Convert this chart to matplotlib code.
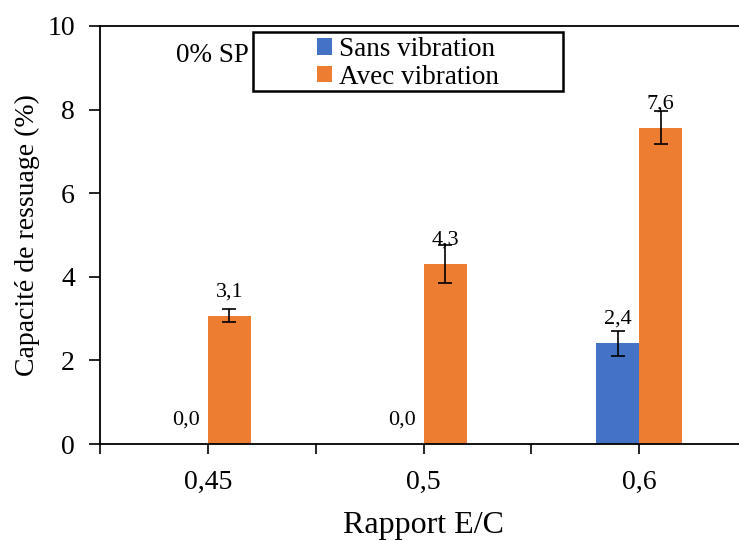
import matplotlib
matplotlib.use("Agg")
import matplotlib.pyplot as plt
from matplotlib.patches import Rectangle
import numpy as np

categories = ["0,45", "0,5", "0,6"]
sans_vib = [0.0, 0.0, 2.41]
avec_vib = [3.07, 4.31, 7.57]
sans_err = [0.0, 0.0, 0.30]
avec_err = [0.15, 0.45, 0.40]
sans_labels = ["0,0", "0,0", "2,4"]
avec_labels = ["3,1", "4,3", "7,6"]

plt.rcParams['font.family'] = ['Liberation Serif', 'DejaVu Serif']

fig = plt.figure(figsize=(7.39, 5.40), dpi=100)
W, H = 739, 540
left, right, top, bottom = 100, 747, 26, 444
ax = fig.add_axes([left / W, 1 - bottom / H, (right - left) / W, (bottom - top) / H])

x = np.arange(len(categories))
bw = 0.2
blue = "#4472C4"
orange = "#ED7D31"
ax.bar(x - bw / 2, sans_vib, bw, color=blue, label="Sans vibration", zorder=2)
ax.bar(x + bw / 2, avec_vib, bw, color=orange, label="Avec vibration", zorder=2)
for xi, v, e in zip(x - bw / 2, sans_vib, sans_err):
    if e > 0:
        ax.errorbar(xi, v, yerr=e, color="black", capsize=5, elinewidth=1.2, capthick=1.2, zorder=3)
for xi, v, e in zip(x + bw / 2, avec_vib, avec_err):
    ax.errorbar(xi, v, yerr=e, color="black", capsize=5, elinewidth=1.2, capthick=1.2, zorder=3)

for xi, v, t in zip(x - bw / 2, sans_vib, sans_labels):
    ax.annotate(t, (xi, v), xytext=(0, 24), textcoords="offset pixels", ha="center", va="center", fontsize=16)
for xi, v, t in zip(x + bw / 2, avec_vib, avec_labels):
    ax.annotate(t, (xi, v), xytext=(0, 24), textcoords="offset pixels", ha="center", va="center", fontsize=16)

ax.set_xlim(-0.5, 2.5)
ax.set_ylim(0, 10)
ax.set_yticks([0, 2, 4, 6, 8, 10])
ax.set_xticks(x)
ax.set_xticklabels(categories)
ax.set_xticks([-0.5, 0.5, 1.5, 2.5], minor=True)
ax.tick_params(axis="x", which="both", direction="out", length=7, width=1.2, labelsize=20, pad=12)
ax.tick_params(axis="y", direction="out", length=8, width=1.2, labelsize=20, pad=10)
for s in ["left", "bottom", "top", "right"]:
    ax.spines[s].set_linewidth(1.3)
    ax.spines[s].set_color("black")

ax.set_ylabel("Capacité de ressuage (%)", fontsize=20, labelpad=5)
fig.text(424 / W, 1 - 526 / H, "Rapport E/C", ha="center", va="center", fontsize=23)

fig.text(212 / W, 1 - 55 / H, "0% SP", ha="center", va="center", fontsize=19.5)

# legend frame
fig.add_artist(Rectangle((253 / W, 1 - 91 / H), (563 - 253) / W, (91 - 32) / H,
                         transform=fig.transFigure, fill=False, edgecolor="black", linewidth=1.8))
leg = ax.legend(loc="upper left", bbox_to_anchor=((317 - left) / (right - left), 1 - (37 - top) / (bottom - top)),
                fontsize=19.5, frameon=False, handlelength=0.55,
                handleheight=0.55, handletextpad=0.25, borderpad=0, labelspacing=0.1, borderaxespad=0)

fig.savefig("out.png", dpi=100)
